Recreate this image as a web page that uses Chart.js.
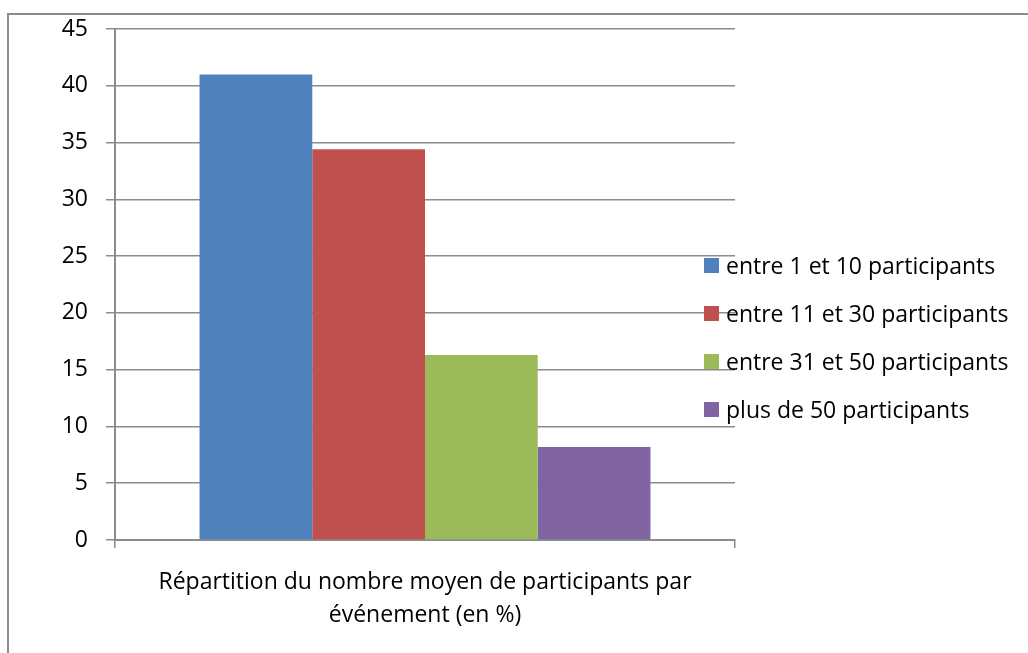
<!DOCTYPE html>
<html>
<head>
<meta charset="utf-8">
<script src="https://cdn.jsdelivr.net/npm/chart.js@4"></script>
<style>
    body {
        margin: 0;
        background: #fff;
        font-family: "Open Sans", sans-serif;
    }

    #moldura {
        position: absolute;
        left: 7px;
        top: 13px;
        width: 1100px;
        height: 700px;
        border-left: 2px solid #8c8c8c;
        border-top: 2px solid #8c8c8c;
    }

    #grafico {
        position: absolute;
        left: 0;
        top: 0;
    }

    #legenda {
        position: absolute;
        left: 704px;
        top: 250px;
        margin: 0;
        padding: 0;
        list-style: none;
    }

    #legenda li {
        height: 48px;
        display: flex;
        align-items: flex-start;
        font-size: 23px;
        line-height: 30px;
        color: #000;
        white-space: nowrap;
    }

    #legenda span.cor {
        width: 15px;
        height: 15px;
        margin-top: 8px;
        margin-right: 7px;
        flex: none;
    }
</style>
</head>
<body>
<div id="moldura"></div>
<canvas id="grafico" width="1028" height="653"></canvas>
<ul id="legenda"></ul>

<script>
const categorias = [["Répartition du nombre moyen de participants par", "événement (en %)"]];
const series = ["entre 1 et 10 participants", "entre 11 et 30 participants", "entre 31 et 50 participants", "plus de 50 participants"];
const valores = [41, 34.4, 16.3, 8.2];
const cores = ["#4F81BD", "#C0504D", "#9BBB59", "#8064A2"];
const ticksY = [0, 5, 10, 15, 20, 25, 30, 35, 40, 45];

const cinza = "#8c8c8c";
const fonte = { family: "'Open Sans', sans-serif", size: 23, lineHeight: 1.43 };

const datasets = [];

for (let i = 0; i < series.length; i++) {
    datasets.push({
        label: series[i],
        data: [valores[i]],
        backgroundColor: cores[i],
        borderWidth: 0,
        barPercentage: 1,
        categoryPercentage: 4 / 5.5
    });
}

new Chart(document.getElementById("grafico"), {
    type: "bar",
    data: {
        labels: categorias,
        datasets: datasets
    },
    options: {
        responsive: false,
        animation: false,
        layout: {
            padding: { left: 0, right: 293, top: 29, bottom: 0 }
        },
        plugins: {
            legend: { display: false },
            tooltip: { enabled: false }
        },
        scales: {
            x: {
                offset: true,
                afterFit: (scale) => {
                    scale.height = 113;
                    scale.paddingLeft = 0;
                    scale.paddingRight = 0;
                },
                grid: {
                    offset: true,
                    drawOnChartArea: false,
                    drawTicks: true,
                    tickLength: 8,
                    color: cinza,
                    lineWidth: 1.5
                },
                border: { display: true, color: cinza, width: 2 },
                ticks: {
                    color: "#000",
                    font: fonte,
                    padding: 18,
                    maxRotation: 0
                }
            },
            y: {
                min: 0,
                max: 45,
                afterFit: (scale) => {
                    scale.width = 115;
                    scale.paddingTop = 0;
                    scale.paddingBottom = 0;
                },
                afterBuildTicks: (scale) => {
                    scale.ticks = ticksY.map(v => ({ value: v }));
                },
                grid: {
                    color: cinza,
                    lineWidth: 1.5,
                    drawTicks: true,
                    tickLength: 9
                },
                border: { display: true, color: cinza, width: 2 },
                ticks: {
                    color: "#000",
                    font: { family: fonte.family, size: 23 },
                    padding: 18
                }
            }
        }
    }
});

// legenda montada a partir das series
let itens = "";

for (let i = 0; i < series.length; i++) {
    itens += `<li><span class="cor" style="background:${cores[i]}"></span>${series[i]}</li>`;
}

document.getElementById("legenda").innerHTML = itens;
</script>
</body>
</html>
